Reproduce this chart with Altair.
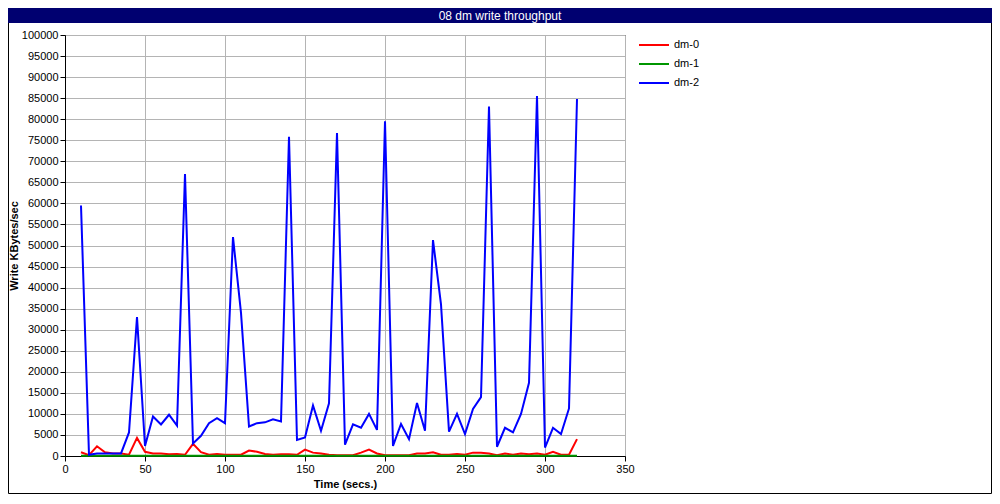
import altair as alt
import pandas as pd

title_text = "08 dm write throughput"
series_names = ["dm-0", "dm-1", "dm-2"]
series_colors = ["#ff0000", "#009600", "#0000ff"]

times = [10, 15, 20, 25, 30, 35, 40, 45, 50, 55, 60, 65, 70, 75, 80, 85, 90, 95, 100,
         105, 110, 115, 120, 125, 130, 135, 140, 145, 150, 155, 160, 165, 170, 175, 180,
         185, 190, 195, 200, 205, 210, 215, 220, 225, 230, 235, 240, 245, 250, 255, 260,
         265, 270, 275, 280, 285, 290, 295, 300, 305, 310, 315, 320]

dm0 = [900, 200, 2300, 900, 600, 600, 300, 4300, 1000, 600, 600, 400, 500, 300, 2900,
       900, 300, 500, 300, 300, 300, 1300, 1000, 500, 300, 400, 400, 300, 1500, 800,
       600, 300, 200, 200, 200, 800, 1500, 600, 200, 200, 200, 200, 600, 600, 900, 300,
       300, 500, 300, 800, 800, 600, 200, 600, 300, 600, 400, 600, 300, 1000, 300, 300,
       4000]

dm1 = [60, 60, 60, 60, 60, 60, 60, 60, 60, 60, 60, 60, 60, 60, 60, 60, 60, 60, 60, 60,
       60, 60, 60, 60, 60, 60, 60, 60, 60, 60, 60, 60, 60, 60, 60, 60, 60, 60, 60, 60,
       60, 60, 60, 60, 60, 60, 60, 60, 60, 60, 60, 60, 60, 60, 60, 60, 60, 60, 60, 60,
       60, 60, 60]

dm2 = [59500, 300, 600, 600, 600, 600, 5600, 33000, 2400, 9400, 7500, 9800, 7200, 67000,
       3000, 4800, 7800, 9000, 7800, 52000, 34000, 7000, 7800, 8000, 8700, 8200, 75800,
       3800, 4400, 12000, 6000, 12500, 76700, 2700, 7500, 6700, 10000, 6200, 79500, 2400,
       7600, 4000, 12600, 6000, 51300, 36000, 5800, 10000, 5200, 11200, 14000, 83000,
       2200, 6700, 5600, 10000, 17400, 85500, 2000, 6700, 5200, 11300, 84800]

x_ticks = [0, 50, 100, 150, 200, 250, 300, 350]
y_ticks = list(range(0, 100001, 5000))

rows = []
for name, vals in zip(series_names, [dm0, dm1, dm2]):
    for t, v in zip(times, vals):
        rows.append({"time": t, "value": v, "series": name})
df = pd.DataFrame(rows)

FONT = "Liberation Sans"

lines = alt.Chart(df).mark_line(strokeWidth=2, strokeJoin="miter").encode(
    x=alt.X("time:Q",
            scale=alt.Scale(domain=[0, 350], nice=False, zero=False),
            axis=alt.Axis(values=x_ticks, title="Time (secs.)", format="d",
                          labelPadding=2, titlePadding=4, labelFlush=False,
                          labelOverlap=False)),
    y=alt.Y("value:Q",
            scale=alt.Scale(domain=[0, 100000], nice=False),
            axis=alt.Axis(values=y_ticks, title="Write KBytes/sec", format="d",
                          labelPadding=2, titlePadding=2, labelFlush=False,
                          labelOverlap=False)),
    color=alt.Color("series:N",
                    scale=alt.Scale(domain=series_names, range=series_colors),
                    legend=alt.Legend(title=None, orient="none", legendX=583, legendY=4,
                                      symbolType="M-3,0H3", symbolSize=100,
                                      symbolStrokeWidth=2, rowPadding=8,
                                      labelOffset=14, labelFontSize=11,
                                      labelFont=FONT, labelColor="black", padding=0)),
)

bar_df = pd.DataFrame({"label": [title_text]})
title_bar = alt.Chart(bar_df).mark_rect(color="#000070").encode(
    x=alt.value(-57), x2=alt.value(927), y=alt.value(-27), y2=alt.value(-12)
)
title_txt = alt.Chart(bar_df).mark_text(
    color="white", fontSize=12, font=FONT, align="center", baseline="middle"
).encode(x=alt.value(435), y=alt.value(-19), text="label:N")

frame = alt.Chart(bar_df).mark_rect(fillOpacity=0, stroke="black", strokeWidth=1).encode(
    x=alt.value(-56.5), x2=alt.value(926.5), y=alt.value(-26.5), y2=alt.value(458.5)
)

chart = alt.layer(frame, lines, title_bar, title_txt).properties(
    width=560, height=421,
    padding={"left": 57, "top": 27, "right": 367, "bottom": 38},
    autosize=alt.AutoSizeParams(type="none"),
    background="white",
).configure_view(
    stroke="black", strokeWidth=1
).configure_axis(
    gridColor="#b4b4b4", gridWidth=1, domainColor="black", tickColor="black",
    tickSize=5, labelFont=FONT, labelFontSize=11, labelColor="black",
    titleFont=FONT, titleFontSize=11, titleFontWeight="bold", titleColor="black",
)

chart.save("out.html", embed_options={"renderer": "svg", "actions": False})
